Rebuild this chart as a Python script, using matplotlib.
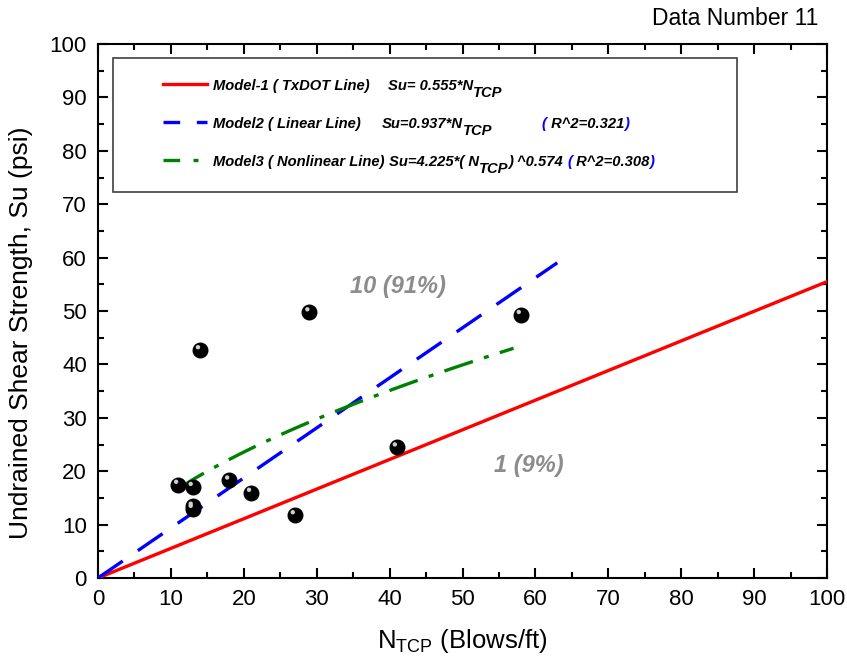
import numpy as np
import matplotlib
matplotlib.use('Agg')
from matplotlib import pyplot as plt
from matplotlib import transforms
from matplotlib.ticker import MultipleLocator

plt.rcParams['font.family'] = ['Liberation Sans', 'DejaVu Sans']
leg_size = 10.6

# measured points
n_tcp = [11, 13, 13, 13, 14, 18, 21, 27, 29, 41, 58]
su = [17.5, 17.1, 13.0, 13.4, 42.7, 18.3, 16.0, 11.8, 49.8, 24.5, 49.3]

# model coefficients
m1_slope = 0.555
m2_slope = 0.937
m3_a, m3_b = 4.225, 0.574
m1_range = (0, 100)
m2_range = (0, 63)
m3_range = (11, 57)

fig = plt.figure(figsize=(8.47, 6.63), dpi=100)
ax = fig.add_axes([0.1157, 0.1282, 0.8607, 0.8054])

x1 = np.linspace(*m1_range, 50)
ax.plot(x1, m1_slope * x1, color='#ff0000', lw=2.4, zorder=3)
x2 = np.linspace(*m2_range, 50)
ax.plot(x2, m2_slope * x2, color='#0000ff', lw=2.4, dashes=(9, 5.5), zorder=3)
x3 = np.linspace(*m3_range, 50)
ax.plot(x3, m3_a * x3 ** m3_b, color='#008000', lw=2.4, dashes=(9, 3.5, 1.5, 3.5), zorder=3)

ax.scatter(n_tcp, su, s=110, color='black', zorder=4)
hl = transforms.offset_copy(ax.transData, fig=fig, x=-1.5, y=2, units='points')
ax.scatter(n_tcp, su, s=10, color='#d0d0d0', edgecolor='none', transform=hl, zorder=5)

ax.set_xlim(0, 100)
ax.set_ylim(0, 100)
ax.xaxis.set_major_locator(MultipleLocator(10))
ax.xaxis.set_minor_locator(MultipleLocator(5))
ax.yaxis.set_major_locator(MultipleLocator(10))
ax.yaxis.set_minor_locator(MultipleLocator(5))
ax.tick_params(which='both', direction='in', top=True, right=True, width=1.5)
ax.tick_params(which='major', length=7, labelsize=16, pad=8)
ax.tick_params(which='minor', length=4)
for s in ax.spines.values():
    s.set_linewidth(1.5)

ax.set_xlabel(r'N$_{\mathregular{TCP}}$ (Blows/ft)', fontsize=18.5, labelpad=12)
ax.set_ylabel('Undrained Shear Strength, Su (psi)', fontsize=19)
ax.yaxis.set_label_coords(-0.089, 0.459)
fig.text(0.966, 0.972, 'Data Number 11', ha='right', va='center', fontsize=16.5)

ax.text(41.2, 54.5, '10 (91%)', color='#8c8c8c', fontsize=17, fontweight='bold',
        style='italic', ha='center', va='center')
ax.text(59.1, 21.0, '1 (9%)', color='#8c8c8c', fontsize=17, fontweight='bold',
        style='italic', ha='center', va='center')

# legend box
ax.add_patch(plt.Rectangle((0.0206, 0.723), 0.856, 0.251, transform=ax.transAxes,
                           fill=False, edgecolor='#404040', lw=1.2, zorder=6))
rows = [0.914, 0.843, 0.772]
styles = [dict(color='#ff0000'), dict(color='#0000ff', dashes=(5, 5)),
          dict(color='#008000', dashes=(5, 4, 1.5, 4))]
for yy, st in zip(rows, styles):
    ax.plot([0.089, 0.1495], [yy + 0.011] * 2, transform=ax.transAxes, lw=2.4, **st)

renderer = fig.canvas.get_renderer()


def chain(x, y, pieces):
    # place text pieces one after another on a shared baseline
    for txt, col, dy in pieces:
        tr = transforms.offset_copy(ax.transAxes, fig=fig, x=0, y=dy, units='points')
        t = ax.text(x, y, txt, color=col, transform=tr, va='baseline', ha='left',
                    fontsize=leg_size, fontweight='bold', style='italic')
        bb = t.get_window_extent(renderer)
        x = ax.transAxes.inverted().transform((bb.x1, bb.y0))[0]
    return x


k, b, sub = 'black', '#0000ff', -5
chain(0.1578, rows[0], [('Model-1 ( TxDOT Line)', k, 0)])
chain(0.398, rows[0], [('Su= 0.555*N', k, 0), ('TCP', k, sub)])
chain(0.1578, rows[1], [('Model2 ( Linear Line)', k, 0)])
chain(0.3896, rows[1], [('Su=0.937*N', k, 0), ('TCP', k, sub)])
chain(0.609, rows[1], [('(', b, 0), (' R^2=0.321', k, 0), (')', b, 0)])
end = chain(0.1578, rows[2], [('Model3 ( Nonlinear Line)', k, 0)])
chain(max(0.3868, end + 0.006), rows[2],
      [('Su=4.225*( N', k, 0), ('TCP', k, sub), (') ^0.574 ', k, 0),
       ('(', b, 0), (' R^2=0.308', k, 0), (')', b, 0)])

fig.savefig('out.png', dpi=100)
